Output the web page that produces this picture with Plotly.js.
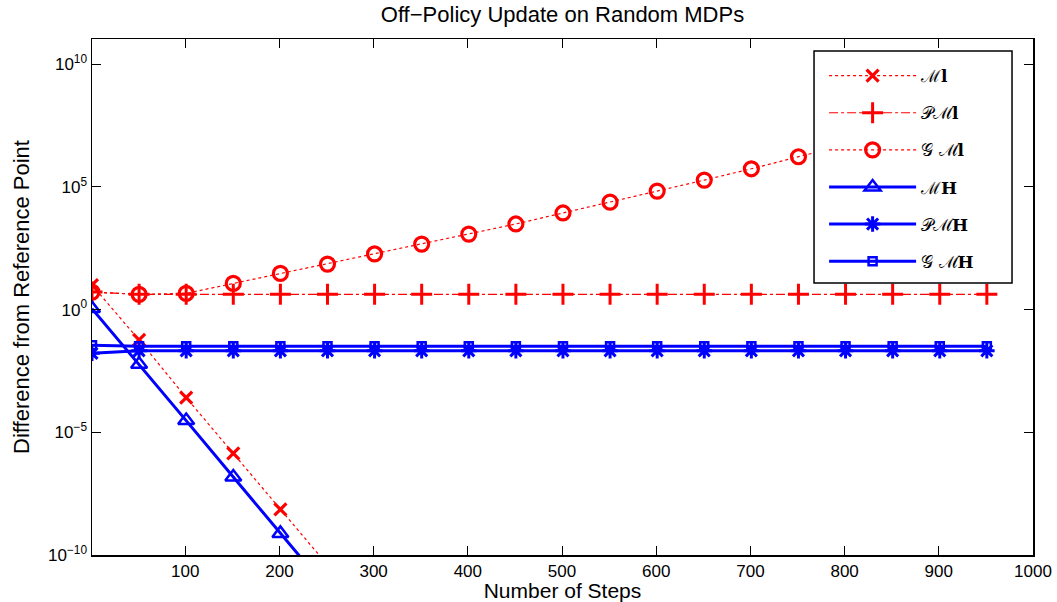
<!DOCTYPE html>
<html>
<head>
<meta charset="utf-8">
<script src="https://cdn.plot.ly/plotly-3.0.1.min.js"></script>
<style>
html,body{margin:0;padding:0;background:#fff;}
#chart{width:1057px;height:602px;}
</style>
</head>
<body>
<div id="chart"></div>
<script>
// ---- data ----
const steps = [1, 51, 101, 151, 201, 251, 301, 351, 401, 451, 501, 551, 601, 651, 701, 751, 801, 851, 901, 951];
const stepsShort = [1, 51, 101, 151, 201, 251];

const seriesNames = ['ℳ<b>l</b>', '𝒫ℳ<b>l</b>', '𝒢 ℳ<b>l</b>', 'ℳ<b>H</b>', '𝒫ℳ<b>H</b>', '𝒢 ℳ<b>H</b>'];

const M_l  = [10, 5.8e-2, 2.6e-4, 1.4e-6, 7.2e-9, 3.9e-11];
const M_H  = [1.1, 5.9e-3, 3.0e-5, 1.5e-7, 7.6e-10, 4.0e-12];
const PM_l = [5.2, 4.2, 4.2, 4.2, 4.2, 4.2, 4.2, 4.2, 4.2, 4.2, 4.2, 4.2, 4.2, 4.2, 4.2, 4.2, 4.2, 4.2, 4.2, 4.2];
const GM_l = [5.2, 4.2, 4.6, 11.7, 30, 72, 186, 468, 1.2e3, 3.1e3, 8.7e3, 2.4e4, 6.8e4, 1.9e5, 5.5e5, 1.7e6, 5.0e6, 1.6e7, 5.0e7, 1.6e8];
const PM_H = [1.66e-2, 2.1e-2, 2.1e-2, 2.1e-2, 2.1e-2, 2.1e-2, 2.1e-2, 2.1e-2, 2.1e-2, 2.1e-2, 2.1e-2, 2.1e-2, 2.1e-2, 2.1e-2, 2.1e-2, 2.1e-2, 2.1e-2, 2.1e-2, 2.1e-2, 2.1e-2];
const GM_H = [3.5e-2, 3.2e-2, 3.2e-2, 3.2e-2, 3.2e-2, 3.2e-2, 3.2e-2, 3.2e-2, 3.2e-2, 3.2e-2, 3.2e-2, 3.2e-2, 3.2e-2, 3.2e-2, 3.2e-2, 3.2e-2, 3.2e-2, 3.2e-2, 3.2e-2, 3.2e-2];

const xTicks = [100, 200, 300, 400, 500, 600, 700, 800, 900, 1000];
const yTicks = [1e-10, 1e-5, 1, 1e5, 1e10];
const yTickText = ['10<sup>−10</sup>', '10<sup>−5</sup>', '10<sup>0</sup>', '10<sup>5</sup>', '10<sup>10</sup>'];

// ---- styling ----
const RED = '#FF0000', BLUE = '#0000FF';
function tr(x, y, name, color, dash, width, symbol, size, mlw, grp) {
  return {
    x: x, y: y, name: name, type: 'scatter', mode: 'lines+markers',
    legendgroup: grp,
    line: {color: color, dash: dash, width: width},
    marker: {symbol: symbol, size: size, color: color, line: {color: color, width: mlw}},
    cliponaxis: true
  };
}
const data = [
  tr(stepsShort, M_l, seriesNames[0], RED, 'dot', 1.2, 'x-thin-open', 12, 3.2, 'g1'),
  tr(steps, PM_l, seriesNames[1], RED, 'dashdot', 1.2, 'cross-thin-open', 15, 3, 'g2'),
  tr(steps, GM_l, seriesNames[2], RED, 'dot', 1.2, 'circle-open', 14, 3.2, 'g3'),
  tr(stepsShort, M_H, seriesNames[3], BLUE, 'solid', 3, 'triangle-up-open', 14, 2.5, 'g4'),
  tr(steps, PM_H, seriesNames[4], BLUE, 'solid', 3, 'asterisk-open', 13, 3, 'g5'),
  tr(steps, GM_H, seriesNames[5], BLUE, 'solid', 3, 'square-open', 8, 2.5, 'g6')
];

const axisFont = {family: 'Liberation Sans, Arial, sans-serif', size: 17, color: '#000'};
const layout = {
  width: 1057, height: 602,
  margin: {l: 92, r: 24, t: 39, b: 47, pad: 0},
  paper_bgcolor: '#fff', plot_bgcolor: '#fff',
  showlegend: true,
  title: {text: 'Off−Policy Update on Random MDPs', x: 0.5, xref: 'paper', y: 0.977, yanchor: 'middle',
          font: {family: 'Liberation Sans, Arial, sans-serif', size: 22, color: '#000'}},
  xaxis: {
    type: 'linear', range: [1, 1000], tickmode: 'array', tickvals: xTicks,
    ticks: 'inside', ticklen: 9, tickcolor: '#000', tickwidth: 1,
    showline: true, linecolor: '#000', linewidth: 1.5, mirror: 'allticks',
    showgrid: false, zeroline: false, tickfont: axisFont,
    title: {text: 'Number of Steps', font: {family: 'Liberation Sans, Arial, sans-serif', size: 21, color: '#000'}, standoff: 5}
  },
  yaxis: {
    type: 'log', range: [-10, 11.03], tickmode: 'array', tickvals: yTicks, ticktext: yTickText,
    ticks: 'inside', ticklen: 9, tickcolor: '#000', tickwidth: 1,
    showline: true, linecolor: '#000', linewidth: 1.5, mirror: 'allticks',
    showgrid: false, zeroline: false, tickfont: axisFont,
    title: {text: 'Difference from Reference Point', font: {family: 'Liberation Sans, Arial, sans-serif', size: 22, color: '#000'}, standoff: 12}
  },
  shapes: [{
    type: 'rect', xref: 'paper', yref: 'paper', layer: 'above',
    x0: 0.7673, x1: 0.9777, y0: 0.5271, y1: 0.9767,
    fillcolor: '#fff', line: {color: '#000', width: 1.5}
  }],
  legend: {
    x: 0.778, y: 0.963, xanchor: 'left', yanchor: 'top', xref: 'paper', yref: 'paper',
    bgcolor: 'rgba(0,0,0,0)', borderwidth: 0,
    font: {family: 'DejaVu Serif, Liberation Serif, serif', size: 17, color: '#000'},
    itemwidth: 87, tracegroupgap: 12, itemclick: false, itemdoubleclick: false
  }
};

Plotly.newPlot('chart', data, layout, {staticPlot: true, displayModeBar: false});
</script>
</body>
</html>
